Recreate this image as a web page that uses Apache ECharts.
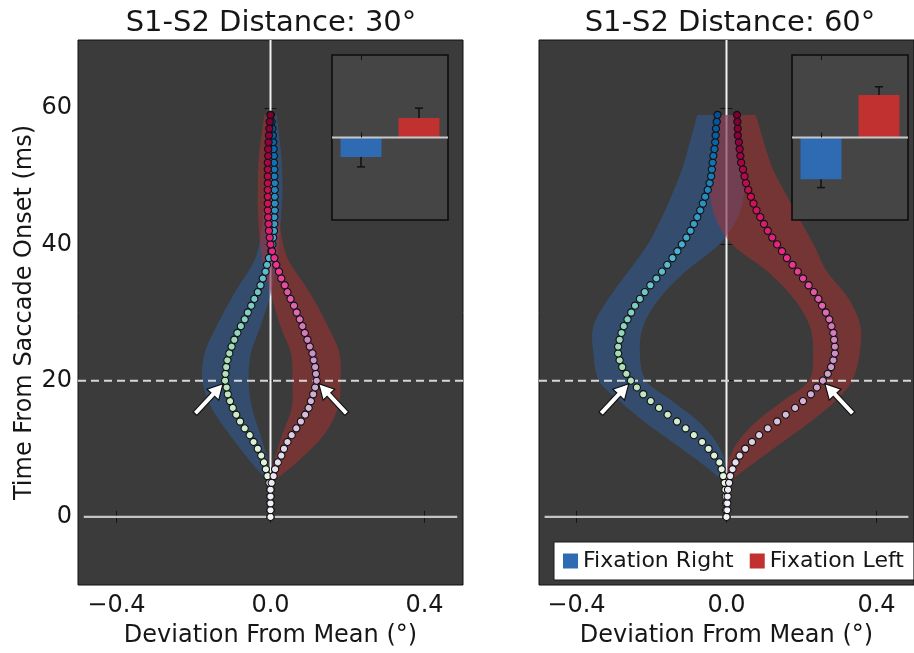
<!DOCTYPE html>
<html>
<head>
<meta charset="utf-8">
<script src="https://cdn.jsdelivr.net/npm/echarts@6/dist/echarts.min.js"></script>
<style>
  html, body { margin: 0; padding: 0; background: #ffffff; }
  #chart { width: 914px; height: 653px; }
</style>
</head>
<body>
<div id="chart"></div>
<script>
// ---------------- data ----------------
// sample times after saccade onset (ms)
const timeMs = [0,1,2,3,4,5,6,7,8,9,10,11,12,13,14,15,16,17,18,19,
                20,21,22,23,24,25,26,27,28,29,30,31,32,33,34,35,36,37,38,39,
                40,41,42,43,44,45,46,47,48,49,50,51,52,53,54,55,56,57,58,59];

// mean deviation (deg), S1-S2 distance 30 deg
const dev30Right = [0.000,0.000,0.000,0.000,0.000,-0.003,-0.008,-0.012,-0.017,-0.024,
                    -0.033,-0.044,-0.054,-0.067,-0.079,-0.089,-0.098,-0.105,-0.111,-0.114,
                    -0.118,-0.117,-0.115,-0.112,-0.107,-0.101,-0.094,-0.086,-0.077,-0.067,
                    -0.059,-0.050,-0.042,-0.033,-0.026,-0.020,-0.013,-0.009,-0.004,0.002,
                    0.005,0.007,0.009,0.010,0.010,0.011,0.011,0.011,0.011,0.011,
                    0.010,0.010,0.009,0.009,0.008,0.007,0.006,0.005,0.003,0.001];
const dev30Left  = [0.000,0.000,0.000,0.000,0.000,0.003,0.008,0.012,0.019,0.028,
                    0.035,0.044,0.055,0.067,0.079,0.090,0.099,0.105,0.111,0.116,
                    0.120,0.118,0.116,0.112,0.109,0.102,0.096,0.089,0.083,0.076,
                    0.068,0.061,0.052,0.044,0.037,0.028,0.022,0.015,0.010,0.004,
                    0.000,-0.002,-0.004,-0.005,-0.006,-0.007,-0.007,-0.007,-0.007,-0.007,
                    -0.007,-0.007,-0.007,-0.006,-0.006,-0.005,-0.004,-0.003,-0.002,0.000];

// mean deviation (deg), S1-S2 distance 60 deg
const dev60Right = [0.000,-0.001,-0.001,-0.002,-0.003,-0.005,-0.009,-0.013,-0.019,-0.033,
                    -0.048,-0.065,-0.087,-0.109,-0.132,-0.157,-0.180,-0.202,-0.222,-0.239,
                    -0.255,-0.267,-0.278,-0.285,-0.289,-0.289,-0.285,-0.280,-0.274,-0.264,
                    -0.254,-0.244,-0.231,-0.218,-0.203,-0.187,-0.172,-0.158,-0.144,-0.131,
                    -0.119,-0.107,-0.096,-0.087,-0.078,-0.070,-0.063,-0.057,-0.050,-0.045,
                    -0.041,-0.039,-0.037,-0.035,-0.032,-0.030,-0.029,-0.028,-0.026,-0.024];
const dev60Left  = [0.000,0.002,0.002,0.003,0.004,0.007,0.010,0.016,0.024,0.035,
                    0.050,0.068,0.087,0.110,0.135,0.158,0.183,0.204,0.225,0.241,
                    0.257,0.270,0.279,0.285,0.289,0.289,0.287,0.285,0.280,0.274,
                    0.265,0.255,0.245,0.233,0.219,0.204,0.190,0.176,0.161,0.148,
                    0.135,0.122,0.110,0.100,0.090,0.080,0.072,0.065,0.058,0.052,
                    0.048,0.044,0.039,0.037,0.035,0.033,0.030,0.030,0.029,0.028];

// confidence bands: [time ms, lower deg, upper deg]
const band30Right = [[5,-0.002,0.002],[8,-0.050,-0.006],[12,-0.105,-0.026],[16,-0.153,-0.048],
                     [20,-0.177,-0.057],[24,-0.171,-0.051],[28,-0.140,-0.026],[33,-0.092,0.002],
                     [38,-0.039,0.018],[43,-0.022,0.026],[48,-0.015,0.031],[53,-0.012,0.028],
                     [59,-0.010,0.016]];
const band30Left  = [[5,-0.002,0.002],[8,0.008,0.068],[12,0.030,0.138],[16,0.055,0.175],
                     [20,0.057,0.182],[24,0.053,0.179],[28,0.026,0.149],[33,0.000,0.101],
                     [38,-0.022,0.044],[43,-0.031,0.024],[48,-0.033,0.015],[53,-0.030,0.012],
                     [59,-0.016,0.010]];
const band60Right = [[5,-0.003,0.000],[8,-0.070,-0.004],[11,-0.145,-0.028],[14,-0.220,-0.075],
                     [17,-0.285,-0.145],[20,-0.340,-0.215],[24,-0.355,-0.231],[28,-0.355,-0.222],
                     [32,-0.315,-0.180],[36,-0.262,-0.110],[40,-0.210,-0.020],[44,-0.172,0.030],
                     [48,-0.140,0.048],[52,-0.113,0.045],[59,-0.078,0.030]];
const band60Left  = [[5,0.000,0.003],[8,0.004,0.075],[11,0.030,0.150],[14,0.080,0.225],
                     [17,0.150,0.290],[20,0.220,0.335],[24,0.231,0.355],[28,0.222,0.357],
                     [32,0.180,0.326],[36,0.110,0.268],[40,0.015,0.232],[44,-0.030,0.192],
                     [48,-0.045,0.152],[52,-0.045,0.117],[59,-0.030,0.078]];

// inset bar summaries (normalized effect) and error half-widths
const insetCategories = ['Fixation Right', 'Fixation Left'];
const inset30    = [-0.236, 0.236];
const inset30Err = [0.12, 0.12];
const inset60    = [-0.507, 0.515];
const inset60Err = [0.10, 0.10];

// axis ticks and annotations
const xTickValues = [-0.4, 0.0, 0.4];
const xTickLabels = ['\u22120.4', '0.0', '0.4'];
const yTickValues = [0, 20, 40, 60];
const markerTime = 20;
const panelTitles = ['S1-S2 Distance: 30\u00b0', 'S1-S2 Distance: 60\u00b0'];

// ---------------- styling ----------------
const FONT = 'DejaVu Sans';
const TEXT = '#161616';
const BLUE = '#2f6bb3';
const RED = '#c0312f';
const BAND_BLUE = 'rgba(45,100,172,0.45)';
const BAND_RED = 'rgba(188,46,46,0.45)';
const GNBU = ['#f7fcf0','#e0f3db','#ccebc5','#a8ddb5','#7bccc4','#4eb3d3','#2b8cbe','#0868ac','#084081'];
const PURD = ['#f7f4f9','#e7e1ef','#d4b9da','#c994c7','#df65b0','#e7298a','#ce1256','#980043','#67001f'];

// Catmull-Rom resampling of pixel points for smooth band outlines
function spline(P, steps) {
  const out = [];
  const n = P.length;
  for (let i = 0; i < n - 1; i++) {
    const p0 = P[Math.max(i - 1, 0)], p1 = P[i], p2 = P[i + 1], p3 = P[Math.min(i + 2, n - 1)];
    for (let s = 0; s < steps; s++) {
      const u = s / steps, u2 = u * u, u3 = u2 * u;
      out.push([0, 1].map(k => 0.5 * (2 * p1[k] + (-p0[k] + p2[k]) * u +
        (2 * p0[k] - 5 * p1[k] + 4 * p2[k] - p3[k]) * u2 +
        (-p0[k] + 3 * p1[k] - 3 * p2[k] + p3[k]) * u3)));
    }
  }
  out.push(P[n - 1]);
  return out;
}

function bandRenderer(rows, fill) {
  return function (params, api) {
    if (params.dataIndex !== 0) return null;
    const lo = rows.map(r => api.coord([r[1], r[0]]));
    const hi = rows.map(r => api.coord([r[2], r[0]]));
    const pts = spline(lo, 10).concat(spline(hi, 10).reverse());
    return { type: 'polygon', shape: { points: pts }, style: { fill: fill } };
  };
}

function arrowRenderer(params, api) {
  const p = api.coord([api.value(0), api.value(1)]);
  const dir = api.value(2);
  const ux = 0.683 * dir, uy = -0.732;
  const nx = -uy, ny = ux;
  const tip = [p[0] - 2 * dir, p[1] + 3];
  const L = 41, hl = 15, hw = 8, sw = 2.6;
  const bx = tip[0] - ux * hl, by = tip[1] - uy * hl;
  const tx = tip[0] - ux * L, ty = tip[1] - uy * L;
  return {
    type: 'polygon',
    shape: { points: [
      tip,
      [bx + nx * hw, by + ny * hw],
      [bx + nx * sw, by + ny * sw],
      [tx + nx * sw, ty + ny * sw],
      [tx - nx * sw, ty - ny * sw],
      [bx - nx * sw, by - ny * sw],
      [bx - nx * hw, by - ny * hw]
    ] },
    style: { fill: '#ffffff', stroke: '#111111', lineWidth: 1.2 }
  };
}

function errorRenderer(params, api) {
  const v = api.value(1), e = api.value(2);
  const s = v < 0 ? -1 : 1;
  const a = api.coord([api.value(0), v]);
  const b = api.coord([api.value(0), v + s * e]);
  return {
    type: 'group',
    children: [
      { type: 'line', shape: { x1: a[0], y1: a[1], x2: b[0], y2: b[1] }, style: { stroke: '#111', lineWidth: 1.5 } },
      { type: 'line', shape: { x1: b[0] - 4, y1: b[1], x2: b[0] + 4, y2: b[1] }, style: { stroke: '#111', lineWidth: 1.5 } }
    ]
  };
}

function insetBackground(params) {
  const cs = params.coordSys;
  return { type: 'rect', shape: { x: cs.x, y: cs.y, width: cs.width, height: cs.height },
           style: { fill: '#454545', stroke: '#0d0d0d', lineWidth: 1.6 } };
}

function insetZeroLine(params, api) {
  const cs = params.coordSys;
  const y = api.coord([0, 0])[1];
  return { type: 'line', shape: { x1: cs.x, y1: y, x2: cs.x + cs.width, y2: y },
           style: { stroke: '#c9c9c9', lineWidth: 2 } };
}

// ---------------- axes ----------------
function xLabel(v) {
  const i = xTickValues.findIndex(t => Math.abs(t - v) < 1e-9);
  return i >= 0 ? xTickLabels[i] : '';
}
const tickStyle = { color: '#141414', width: 1 };

function mainX(gridIndex, position, withLabels) {
  const ax = {
    type: 'value', gridIndex, position, min: -0.5, max: 0.5,
    axisLine: { show: false }, splitLine: { show: false },
    axisTick: { show: true, inside: true, length: 6, customValues: xTickValues, lineStyle: tickStyle },
    axisLabel: { show: withLabels, customValues: xTickValues, formatter: xLabel, margin: 9,
                 fontSize: 24, color: TEXT, fontFamily: FONT }
  };
  if (withLabels) {
    ax.name = 'Deviation From Mean (\u00b0)';
    ax.nameLocation = 'middle';
    ax.nameGap = 39;
    ax.nameTextStyle = { fontSize: 24, color: TEXT, fontFamily: FONT };
  }
  return ax;
}
function mainY(gridIndex, position, withLabels) {
  const ax = {
    type: 'value', gridIndex, position, min: -10, max: 70,
    axisLine: { show: false }, splitLine: { show: false },
    axisTick: { show: true, inside: true, length: 6, customValues: yTickValues, lineStyle: tickStyle },
    axisLabel: { show: withLabels, customValues: yTickValues, margin: 6,
                 fontSize: 24, color: TEXT, fontFamily: FONT }
  };
  if (withLabels) {
    ax.name = 'Time From Saccade Onset (ms)';
    ax.nameLocation = 'middle';
    ax.nameRotate = 90;
    ax.nameGap = 41;
    ax.nameTextStyle = { fontSize: 24, color: TEXT, fontFamily: FONT };
  }
  return ax;
}
function insetX(gridIndex, position) {
  return {
    type: 'category', gridIndex, position, data: insetCategories, z: 20,
    axisLine: { show: false }, splitLine: { show: false }, axisLabel: { show: false },
    axisTick: { show: true, inside: true, length: 5, alignWithLabel: true, lineStyle: { color: '#111', width: 1 } }
  };
}
function insetY(gridIndex) {
  return { type: 'value', gridIndex, min: -1, max: 1, show: false };
}

// ---------------- series ----------------
const series = [];
const gnbuSeries = [];
const purdSeries = [];

function addPanel(xa, ya, devR, devL, bandR, bandL) {
  const base = { xAxisIndex: xa, yAxisIndex: ya, silent: true };
  series.push(Object.assign({ type: 'line', data: [[0, 0], [0, 70]], symbol: 'none',
    lineStyle: { color: '#f2f2f2', width: 2 }, z: 1 }, base));
  series.push(Object.assign({ type: 'line', data: [[-0.485, 0], [0.485, 0]], symbol: 'none',
    lineStyle: { color: '#c4c4c4', width: 2.2 }, z: 1 }, base));
  series.push(Object.assign({ type: 'custom', data: bandR, encode: { x: 1, y: 0 },
    renderItem: bandRenderer(bandR, BAND_BLUE), z: 2 }, base));
  series.push(Object.assign({ type: 'custom', data: bandL, encode: { x: 1, y: 0 },
    renderItem: bandRenderer(bandL, BAND_RED), z: 2 }, base));
  series.push(Object.assign({ type: 'line', data: [[-0.5, markerTime], [0.5, markerTime]], symbol: 'none',
    lineStyle: { color: '#d6d6d6', width: 2, type: [8, 5] }, z: 3 }, base));
  gnbuSeries.push(series.length);
  series.push(Object.assign({ type: 'scatter', data: timeMs.map((t, i) => [devR[i], t]),
    symbolSize: 7.2, itemStyle: { borderColor: '#101010', borderWidth: 1.1, opacity: 1 }, z: 4 }, base));
  purdSeries.push(series.length);
  series.push(Object.assign({ type: 'scatter', data: timeMs.map((t, i) => [devL[i], t]),
    symbolSize: 7.2, itemStyle: { borderColor: '#101010', borderWidth: 1.1, opacity: 1 }, z: 5 }, base));
  const k = timeMs.indexOf(markerTime);
  series.push(Object.assign({ type: 'custom', data: [[devR[k], markerTime, 1], [devL[k], markerTime, -1]],
    renderItem: arrowRenderer, z: 6 }, base));
}

function addInset(xa, ya, vals, errs) {
  const base = { xAxisIndex: xa, yAxisIndex: ya, silent: true };
  series.push(Object.assign({ type: 'custom', data: [[0, 0]], renderItem: insetBackground, z: 10 }, base));
  series.push(Object.assign({ type: 'bar', name: insetCategories[0], stack: 'inset' + xa,
    data: [vals[0], '-'], barWidth: 41, itemStyle: { color: BLUE }, z: 11 }, base));
  series.push(Object.assign({ type: 'bar', name: insetCategories[1], stack: 'inset' + xa,
    data: ['-', vals[1]], barWidth: 41, itemStyle: { color: RED }, z: 11 }, base));
  series.push(Object.assign({ type: 'custom', data: [[0, 0]], renderItem: insetZeroLine, z: 12 }, base));
  series.push(Object.assign({ type: 'custom', data: [[0, vals[0], errs[0]], [1, vals[1], errs[1]]],
    renderItem: errorRenderer, z: 12 }, base));
}

addPanel(0, 0, dev30Right, dev30Left, band30Right, band30Left);
addPanel(2, 2, dev60Right, dev60Left, band60Right, band60Left);
addInset(4, 4, inset30, inset30Err);
addInset(6, 5, inset60, inset60Err);

const option = {
  animation: false,
  backgroundColor: '#ffffff',
  textStyle: { fontFamily: FONT },
  grid: [
    { left: 78, top: 40, width: 385, height: 551, show: true, backgroundColor: '#3b3b3b', borderColor: '#111', borderWidth: 1 },
    { left: 539, top: 40, width: 383, height: 551, show: true, backgroundColor: '#3b3b3b', borderColor: '#111', borderWidth: 1 },
    { left: 332, top: 55, width: 116, height: 165 },
    { left: 792, top: 55, width: 116, height: 165 }
  ],
  xAxis: [
    mainX(0, 'bottom', true), mainX(0, 'top', false),
    mainX(1, 'bottom', true), mainX(1, 'top', false),
    insetX(2, 'bottom'), insetX(2, 'top'),
    insetX(3, 'bottom'), insetX(3, 'top')
  ],
  yAxis: [
    mainY(0, 'left', true), mainY(0, 'right', false),
    mainY(1, 'left', false), mainY(1, 'right', false),
    insetY(2), insetY(3)
  ],
  visualMap: [
    { type: 'continuous', show: false, seriesIndex: gnbuSeries, dimension: 1, min: 0, max: 62, inRange: { color: GNBU } },
    { type: 'continuous', show: false, seriesIndex: purdSeries, dimension: 1, min: 0, max: 62, inRange: { color: PURD } }
  ],
  legend: {
    left: 554, top: 542, z: 30,
    data: [
      { name: insetCategories[0], icon: 'rect', itemStyle: { color: BLUE } },
      { name: insetCategories[1], icon: 'rect', itemStyle: { color: RED } }
    ],
    backgroundColor: '#ffffff', borderColor: '#1a1a1a', borderWidth: 1, borderRadius: 0,
    padding: [8, 10, 8, 9], itemGap: 16, itemWidth: 15, itemHeight: 15,
    textStyle: { fontSize: 22, color: TEXT, fontFamily: FONT },
    selectedMode: false
  },
  graphic: [
    { type: 'text', x: 271, y: 23, style: { text: panelTitles[0], font: '29px "DejaVu Sans"', fill: TEXT, align: 'center', verticalAlign: 'middle' } },
    { type: 'text', x: 730, y: 23, style: { text: panelTitles[1], font: '29px "DejaVu Sans"', fill: TEXT, align: 'center', verticalAlign: 'middle' } }
  ],
  series: series
};

const chart = echarts.init(document.getElementById('chart'), null, { renderer: 'canvas' });
chart.setOption(option);
</script>
</body>
</html>
